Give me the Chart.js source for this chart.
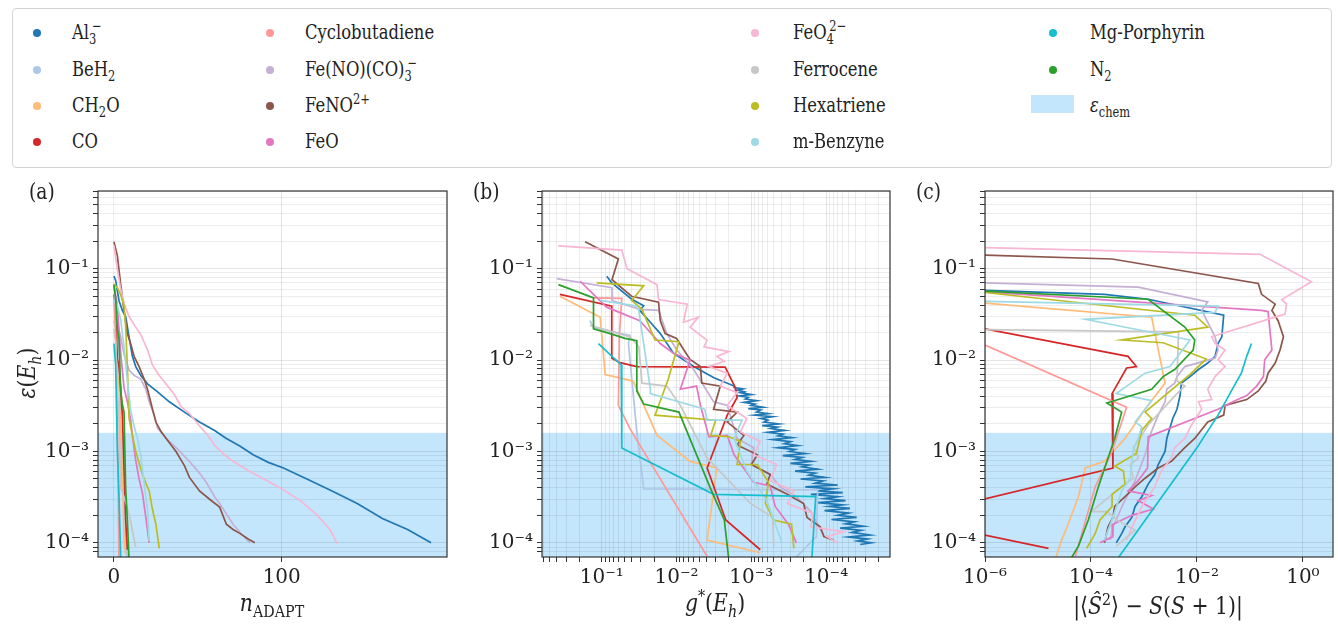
<!DOCTYPE html>
<html>
<head>
<meta charset="utf-8">
<script src="https://cdn.jsdelivr.net/npm/chart.js@4"></script>
<style>
  body { margin: 0; width: 1338px; height: 625px; overflow: hidden; background: #fff;
         font-family: "DejaVu Serif", "Liberation Serif", serif; color: #222; position: relative; }
  canvas.panel { position: absolute; top: 175px; }
  #legend { position: absolute; left: 12px; top: 8px; width: 1320px; height: 160px;
            border: 1px solid #d3d3d3; border-radius: 4px; box-sizing: border-box; }
  .dot { position: absolute; width: 8px; height: 8px; border-radius: 50%; }
  .patch { position: absolute; width: 43px; height: 18px; background: rgba(135,206,250,0.5); }
  .lab { position: absolute; font-size: 21px; line-height: 24px; white-space: nowrap;
         transform: scaleX(0.78); transform-origin: left center; }
  sub, sup { font-size: 0.7em; line-height: 0; }
  sup.stk { margin-left: -0.4em; }
  .title { position: absolute; font-size: 24px; white-space: nowrap; transform: translate(-50%, -50%) scaleX(0.85); }
  .plab { position: absolute; font-size: 22px; top: 179px; transform: scaleX(0.85); transform-origin: left top; }
</style>
</head>
<body>
<div id="legend"></div>
<canvas id="chartA" class="panel" width="451" height="450" style="left:0px"></canvas>
<canvas id="chartB" class="panel" width="451" height="450" style="left:444px"></canvas>
<canvas id="chartC" class="panel" width="451" height="450" style="left:887px"></canvas>

<div class="plab" style="left:29px">(a)</div>
<div class="plab" style="left:473px">(b)</div>
<div class="plab" style="left:916px">(c)</div>
<div class="title" style="left:27px; top:373px; transform: translate(-50%,-50%) rotate(-90deg) scaleX(0.85);"><i>ε</i>(<i>E</i><sub><i>h</i></sub>)</div>
<div class="title" style="left:272px; top:603px;"><i>n</i><sub>ADAPT</sub></div>
<div class="title" style="left:715px; top:603px;"><i>g</i><sup>*</sup>(<i>E</i><sub><i>h</i></sub>)</div>
<div class="title" style="left:1158px; top:606px;">|⟨<i>Ŝ</i><sup>2</sup>⟩ − <i>S</i>(<i>S</i> + 1)|</div>

<script>
// molecules, in legend / drawing order
const molecules = ['Al3-', 'BeH2', 'CH2O', 'CO', 'Cyclobutadiene', 'Fe(NO)(CO)3-', 'FeNO2+', 'FeO',
                   'FeO4 2-', 'Ferrocene', 'Hexatriene', 'm-Benzyne', 'Mg-Porphyrin', 'N2'];
const legendLabels = ['Al<sub>3</sub><sup class="stk">−</sup>', 'BeH<sub>2</sub>', 'CH<sub>2</sub>O', 'CO',
  'Cyclobutadiene', 'Fe(NO)(CO)<sub>3</sub><sup class="stk">−</sup>', 'FeNO<sup>2+</sup>', 'FeO',
  'FeO<sub>4</sub><sup class="stk">2−</sup>', 'Ferrocene', 'Hexatriene', 'm-Benzyne', 'Mg-Porphyrin', 'N<sub>2</sub>'];
const colors = ['#1f77b4', '#aec7e8', '#ffbb78', '#d62728', '#ff9896', '#c5b0d5', '#8c564b', '#e377c2',
                '#f7b6d2', '#c7c7c7', '#bcbd22', '#9edae5', '#17becf', '#2ca02c'];
const epsChem = 1.6e-3;

// (a) energy error vs ADAPT iteration  [n, eps]
const a_Al3 = [[0,0.083],[1,0.075],[3,0.045],[5,0.035],[7,0.03],[9,0.018],[11,0.011],[13,0.0085],[16,0.0068],[20,0.0055],[26,0.0045],[33,0.0035],[42,0.0027],[51,0.0021],[60,0.0017],[67,0.00139],[75,0.00115],[83,9.2e-4],[92,7.6e-4],[101,6.6e-4],[115,5.0e-4],[130,3.7e-4],[145,2.7e-4],[160,1.85e-4],[175,1.4e-4],[189,1e-4]];
const a_BeH2 = [[0,0.027],[1,0.0227],[2,0.0187],[3,0.0152],[4,1.64e-3],[5,3.9e-4],[6,3.8e-4],[7,1.17e-4],[8,6.6e-5]];
const a_CH2O = [[0,0.05],[1,0.0295],[2,0.007],[3,0.0059],[4,0.0015],[5,7.8e-4],[6,1.07e-4],[7,7.5e-5]];
const a_CO = [[0,0.0525],[1,0.039],[2,0.0105],[3,0.0085],[4,0.005],[5,0.0025],[6,6.6e-4],[7,1.78e-4],[8,8.4e-5]];
const a_Cyclobutadiene = [[0,0.048],[1,0.0195],[2,0.0032],[3,6.5e-5]];
const a_FeNOCO3 = [[0,0.068],[1,0.035],[2,0.025],[4,0.018],[6,0.0115],[9,0.0078],[12,0.0068],[16,0.0062],[19,0.0048],[21,0.0035],[24,0.0025],[26,0.0018],[31,0.0014],[37,0.0011],[45,7.8e-4],[51,5.8e-4],[55,4.6e-4],[60,3.2e-4],[63,2.7e-4],[71,1.6e-4],[76,1.25e-4],[81,1e-4]];
const a_FeNO = [[0,0.197],[2,0.14],[4,0.068],[6,0.035],[8,0.0195],[10,0.015],[12,0.011],[15,0.0085],[18,0.0062],[20,0.0048],[23,0.0029],[25,0.0021],[28,0.00166],[31,0.0014],[37,0.001],[42,7e-4],[45,5.2e-4],[51,3.7e-4],[57,3.0e-4],[63,2.46e-4],[67,1.6e-4],[71,1.4e-4],[75,1.27e-4],[80,1.1e-4],[84,1e-4]];
const a_FeO = [[0,0.065],[2,0.04],[4,0.012],[6,0.005],[8,0.0035],[10,0.0022],[11,0.0015],[13,8e-4],[15,5e-4],[17,3.5e-4],[19,1.9e-4],[21,1.0e-4]];
const a_FeO4 = [[0,0.18],[2,0.1],[4,0.06],[6,0.042],[9,0.03],[13,0.023],[16,0.019],[20,0.013],[23,0.0088],[27,0.0068],[32,0.0052],[36,0.0042],[40,0.0031],[45,0.0026],[51,0.0019],[56,0.0015],[60,0.00117],[65,0.00095],[71,7.8e-4],[80,6.2e-4],[91,4.8e-4],[101,3.8e-4],[111,2.9e-4],[120,2.1e-4],[126,1.6e-4],[129,1.38e-4],[133,9.8e-5]];
const a_Ferrocene = [[0,0.022],[1,0.016],[2,0.0055],[3,0.0022],[4,4e-4],[6,3.2e-4],[8,2.4e-4],[10,1.7e-4],[12,1.1e-4],[13,9e-5]];
const a_Hexatriene = [[0,0.068],[2,0.062],[4,0.052],[6,0.04],[7,0.023],[8,0.0085],[9,0.0023],[11,0.0015],[13,0.001],[15,7.5e-4],[17,5.6e-4],[19,4.5e-4],[21,3.7e-4],[23,2.3e-4],[25,1.6e-4],[27,8.7e-5]];
const a_mBenzyne = [[0,0.045],[2,0.04],[4,0.028],[6,0.014],[8,0.006],[10,0.0028],[12,0.0019],[14,0.0014],[16,9e-4],[18,4.5e-4],[20,2.3e-4],[21,1.05e-4]];
const a_MgPorphyrin = [[0,0.0152],[1,0.0089],[2,1.09e-3],[3,3.3e-4],[4,6.9e-5]];
const a_N2 = [[0,0.067],[1,0.048],[2,0.022],[3,0.0173],[4,0.0046],[5,0.0033],[6,0.0027],[7,3.9e-4],[8,1.78e-4],[9,6.5e-5]];

// (b) energy error vs largest gradient g*  [g, eps]
const b_Al3 = [[0.0857,0.083],[0.0735,0.07],[0.0398,0.0464],[0.0275,0.0394],[0.031,0.035],[0.0224,0.026],[0.0165,0.0195],[0.011,0.0119],[5.9e-3,8.5e-3],[3.16e-3,6.4e-3],[1.7e-3,5.2e-3],
  [1.7e-3,5.0e-3],[1.3e-3,4.85e-3],[1.55e-3,4.7e-3],[1.25e-3,4.5e-3],[1.4e-3,4.4e-3],[1.0e-3,4.2e-3],[1.45e-3,4.05e-3],[1.1e-3,3.9e-3],[1.2e-3,3.75e-3],[8.5e-4,3.6e-3],[1.25e-3,3.45e-3],[9e-4,3.3e-3],[1.0e-3,3.2e-3],[7e-4,3.05e-3],[1.1e-3,2.95e-3],[7.5e-4,2.85e-3],[8.5e-4,2.7e-3],[6e-4,2.6e-3],[9e-4,2.5e-3],[5.2e-4,2.4e-3],[7.5e-4,2.3e-3],[6e-4,2.2e-3],[6.8e-4,2.1e-3],[4.3e-4,2.0e-3],[7.2e-4,1.92e-3],[4.5e-4,1.85e-3],[5.5e-4,1.78e-3],[3.6e-4,1.7e-3],[6e-4,1.62e-3],[3.8e-4,1.55e-3],[4.4e-4,1.48e-3],[2.9e-4,1.42e-3],[5.2e-4,1.35e-3],[3.0e-4,1.28e-3],[3.6e-4,1.22e-3],[2.4e-4,1.16e-3],[4.4e-4,1.1e-3],[2.6e-4,1.05e-3],[3.1e-4,1.0e-3],[1.9e-4,9.5e-4],[3.8e-4,9.0e-4],[2.1e-4,8.6e-4],[2.6e-4,8.2e-4],[1.6e-4,7.8e-4],[3.0e-4,7.4e-4],[1.7e-4,7.1e-4],[2.1e-4,6.8e-4],[1.3e-4,6.4e-4],[2.6e-4,6.1e-4],[1.4e-4,5.8e-4],[1.7e-4,5.5e-4],[1.05e-4,5.2e-4],[2.2e-4,5.0e-4],[1.1e-4,4.75e-4],[1.4e-4,4.5e-4],[7e-5,4.3e-4],[1.9e-4,4.1e-4],[8e-5,3.9e-4],[1.3e-4,3.7e-4],[6e-5,3.55e-4],[1.6e-4,3.4e-4],[7e-5,3.2e-4],[1.05e-4,3.05e-4],[5.5e-5,2.9e-4],[1.3e-4,2.75e-4],[6e-5,2.6e-4],[9e-5,2.5e-4],[4.8e-5,2.38e-4],[1.05e-4,2.25e-4],[5e-5,2.12e-4],[7e-5,2.0e-4],[3.9e-5,1.9e-4],[8.5e-5,1.8e-4],[4.2e-5,1.7e-4],[5.5e-5,1.62e-4],[3.2e-5,1.52e-4],[6.5e-5,1.45e-4],[3.4e-5,1.37e-4],[4.5e-5,1.3e-4],[2.6e-5,1.22e-4],[5e-5,1.16e-4],[2.8e-5,1.1e-4],[3.8e-5,1.05e-4],[2.5e-5,1.0e-4],[3.5e-5,9.6e-5]];
const b_BeH2 = [[0.144,0.027],[0.129,0.0227],[0.042,0.0187],[0.044,0.0152],[0.034,1.64e-3],[0.0275,3.9e-4],[1.3e-4,3.8e-4],[1.35e-4,1.17e-4],[2.7e-4,6.6e-5]];
const b_CH2O = [[0.363,0.05],[0.105,0.0295],[0.09,6.95e-3],[0.038,5.9e-3],[0.0183,1.51e-3],[6.6e-3,7.8e-4],[2.9e-3,6.6e-4],[3.9e-3,1.07e-4],[7.6e-4,7.8e-5]];
const b_CO = [[0.363,0.0525],[0.0735,0.039],[0.0735,0.0105],[0.057,0.0094],[0.034,0.0085],[2.24e-3,0.0084],[1.64e-3,5.0e-3],[1.55e-3,3.9e-3],[2.1e-3,2.5e-3],[3.9e-3,6.6e-4],[2.2e-3,1.78e-4],[7.6e-4,8.4e-5]];
const b_Cyclobutadiene = [[0.129,0.048],[0.054,0.0475],[0.058,0.0195],[0.06,3.2e-3],[0.042,1.78e-3],[3.9e-3,7.1e-5]];
const b_FeNOCO3 = [[0.4,0.078],[0.073,0.062],[0.073,0.045],[0.031,0.036],[0.0174,0.035],[0.0135,0.0195],[0.01,0.013],[5.9e-3,7.9e-3],[3.2e-3,3.5e-3],[2.1e-3,3.2e-3],[1.55e-3,1.39e-3],[9.3e-4,1.1e-3],[1.0e-3,7.2e-4],[5.6e-4,5.6e-4],[4.1e-4,4.1e-4],[2.5e-4,3.2e-4],[1.6e-4,2.2e-4],[1.3e-4,1.6e-4],[1.07e-4,1.17e-4]];
const b_FeNO = [[0.167,0.197],[0.06,0.128],[0.073,0.076],[0.04,0.05],[0.0174,0.043],[0.0165,0.027],[0.0142,0.0195],[0.01,0.0173],[8.5e-3,0.014],[6.6e-3,0.0102],[4.8e-3,8.5e-3],[4.6e-3,5.6e-3],[2.6e-3,5.2e-3],[3.2e-3,2.9e-3],[1.55e-3,2.7e-3],[2.1e-3,2.1e-3],[1.26e-3,1.5e-3],[1.55e-3,1.18e-3],[8.3e-4,9.2e-4],[1.0e-3,7.2e-4],[5.6e-4,5.6e-4],[6.2e-4,4.4e-4],[3.3e-4,3.4e-4],[2.0e-4,2.7e-4],[1.8e-4,1.9e-4],[1.2e-4,1.5e-4],[1.07e-4,1.17e-4],[7.9e-5,1.07e-4]];
const b_FeO = [[0.195,0.073],[0.086,0.038],[0.031,0.027],[0.0165,0.0152],[0.011,0.0119],[6.6e-3,0.01],[8.9e-3,4.8e-3],[5.4e-3,5.2e-3],[4.8e-3,3.2e-3],[3.7e-3,1.45e-3],[2.1e-3,1.5e-3],[1.7e-3,9.2e-4],[9.3e-4,4.6e-4],[5.6e-4,4.2e-4],[4.8e-4,2.5e-4],[3.2e-4,1.6e-4],[2.5e-4,1e-4]];
const b_FeO4 = [[0.38,0.178],[0.054,0.16],[0.046,0.1],[0.0183,0.067],[0.0174,0.046],[7.2e-3,0.041],[8.1e-3,0.026],[5.1e-3,0.0295],[6.6e-3,0.023],[3.9e-3,0.0165],[4.3e-3,0.014],[2.0e-3,0.0124],[2.9e-3,0.011],[2.3e-3,9.7e-3],[3.7e-3,8.5e-3],[2.1e-3,7.2e-3],[2.6e-3,5.2e-3],[1.55e-3,4.4e-3],[2.1e-3,3.2e-3],[1.15e-3,2.3e-3],[1.4e-3,1.64e-3],[7.6e-4,1.29e-3],[9.3e-4,9.2e-4],[4.6e-4,7.2e-4],[5.6e-4,4.8e-4],[2.7e-4,3.7e-4],[3.3e-4,2.7e-4],[1.5e-4,2.1e-4],[1.6e-4,1.5e-4],[5.8e-5,1.32e-4],[9.8e-5,1.17e-4],[7.1e-5,1e-4]];
const b_Ferrocene = [[0.144,0.024],[0.042,0.018],[0.032,0.014],[0.029,5.6e-3],[0.0135,5.2e-3],[8.9e-3,3.2e-3],[3.9e-3,8.5e-4],[1.03e-3,2.7e-4],[5.2e-4,1.9e-4],[5.0e-4,9.2e-5]];
const b_Hexatriene = [[0.117,0.07],[0.0275,0.065],[0.0398,0.045],[0.029,0.036],[0.0194,0.0166],[9.3e-3,0.0159],[0.0129,6.2e-3],[0.0194,2.5e-3],[3.0e-3,2.2e-3],[3.5e-3,1.5e-3],[2.0e-3,1.45e-3],[1.4e-3,1.29e-3],[1.55e-3,7.2e-4],[8.3e-4,7.2e-4],[5.9e-4,4.6e-4],[6.5e-4,2.7e-4],[5.0e-4,1.78e-4],[2.9e-4,1.6e-4],[2.7e-4,8.7e-5]];
const b_mBenzyne = [[0.105,0.045],[0.034,0.039],[0.032,0.035],[0.0224,4.8e-3],[0.0224,4.3e-3],[4.2e-3,2.9e-3],[3.9e-3,2.2e-3],[1.33e-3,2.2e-3],[1.7e-3,1.39e-3],[1.15e-3,6.1e-4],[6.2e-4,2.9e-4],[3.9e-4,1e-4]];
const b_MgPorphyrin = [[0.111,0.0152],[0.055,8.9e-3],[0.054,1.09e-3],[3.2e-3,3.4e-4],[1.38e-4,3.2e-4],[1.55e-4,6.9e-5]];
const b_N2 = [[0.38,0.067],[0.129,0.048],[0.129,0.022],[0.077,0.0195],[0.049,0.0173],[0.034,0.0163],[0.034,4.6e-3],[0.0275,3.3e-3],[9.3e-3,2.7e-3],[3.5e-3,3.9e-4],[2.3e-3,1.78e-4],[2.0e-3,6.5e-5]];

// (c) energy error vs spin contamination  [|<S^2>-S(S+1)|, eps]
const c_Al3 = [[1e-6,0.058],[1.8e-4,0.0525],[1.2e-3,0.0464],[0.032,0.031],[0.0295,0.018],[0.025,0.0152],[0.022,0.011],[0.016,9.3e-3],[0.0107,7.9e-3],[7.4e-3,6.6e-3],[5.1e-3,5.6e-3],[4.8e-3,4.1e-3],[4.2e-3,2.9e-3],[3.5e-3,2.3e-3],[2.7e-3,1.39e-3],[2.5e-3,1e-3],[1.86e-3,7.2e-4],[1.6e-3,5.6e-4],[1.2e-3,4.4e-4],[9.1e-4,3.2e-4],[6.8e-4,2.5e-4],[5.9e-4,1.9e-4],[4.4e-4,1.5e-4],[3.8e-4,1.26e-4],[3.0e-4,1e-4]];
const c_BeH2 = [];
const c_CH2O = [[1e-6,0.042],[1.4e-3,0.0295],[2.5e-3,5.6e-3],[1.05e-3,2.9e-3],[4.4e-4,1.39e-3],[1.8e-4,7.8e-4],[7.8e-5,6.6e-4],[5.8e-5,3.2e-4],[3.7e-5,1.6e-4],[2.8e-5,1.07e-4],[2.2e-5,7.1e-5]];
const c_CO = [[1e-6,0.022],[5.0e-4,0.011],[7.2e-4,8.5e-3],[4.7e-4,8.2e-3],[2.5e-4,4.3e-3],[2.6e-4,6.6e-4],[1e-7,2.2e-4],[1e-7,1.6e-4],[1.58e-5,8.7e-5]];
const c_Cyclobutadiene = [[1e-6,0.0146],[4.7e-4,3.05e-3],[2.5e-4,1e-3],[1.2e-4,4.1e-4],[5e-5,6.9e-5]];
const c_FeNOCO3 = [[1e-6,0.07],[7.8e-4,0.063],[0.016,0.0435],[0.0123,0.035],[0.022,0.018],[0.025,0.0129],[0.022,0.0105],[5.9e-3,8.5e-3],[4.2e-3,6.6e-3],[3.8e-3,5.6e-3],[2.7e-3,4.8e-3],[2.5e-3,3.5e-3],[1.86e-3,2.5e-3],[1.38e-3,1.64e-3],[1.05e-3,9.2e-4],[6.8e-4,4.8e-4],[4.1e-4,2.7e-4],[2.6e-4,1.5e-4],[2.3e-4,1.07e-4]];
const c_FeNO = [[1e-6,0.141],[2.5e-4,0.128],[0.144,0.069],[0.166,0.0525],[0.3,0.041],[0.26,0.035],[0.34,0.027],[0.43,0.018],[0.37,0.0129],[0.3,9.3e-3],[0.22,7.2e-3],[0.2,5.9e-3],[0.144,4.6e-3],[0.087,3.7e-3],[0.034,3.2e-3],[0.032,2.5e-3],[0.016,2.1e-3],[9.1e-3,1.39e-3],[5.9e-3,1.1e-3],[3.3e-3,7.8e-4],[1.86e-3,6.6e-4],[1.05e-3,5.1e-4],[6.8e-4,4.1e-4],[4.4e-4,3.2e-4],[2.8e-4,2.5e-4],[2.6e-4,1.9e-4],[2.1e-4,1.5e-4],[1.8e-4,1e-4]];
const c_FeO = [[1e-6,0.056],[0.166,0.035],[0.22,0.034],[0.26,0.0129],[0.19,0.0101],[0.18,6.6e-3],[0.134,5.2e-3],[0.087,4.1e-3],[0.052,3.6e-3],[0.025,2.9e-3],[1.4e-3,1.5e-3],[1.2e-3,1.45e-3],[1.17e-3,6.6e-4],[7.8e-4,4.8e-4],[5.0e-4,3.7e-4],[1.4e-3,3.3e-4],[7.8e-4,2.9e-4],[1.5e-3,2.35e-4],[5.9e-4,2.0e-4],[2.5e-4,1.58e-4],[2.6e-4,1.17e-4],[1.48e-4,1e-4]];
const c_FeO4 = [[1e-6,0.17],[0.155,0.144],[1.45,0.072],[0.4,0.046],[0.49,0.041],[0.46,0.032],[0.019,0.018],[0.022,0.0152],[0.034,0.0129],[0.025,0.0101],[0.034,8.5e-3],[0.022,6.6e-3],[0.016,4.8e-3],[0.019,3.7e-3],[0.0107,3.5e-3],[0.0123,2.9e-3],[7.9e-3,1.95e-3],[5.9e-3,1.39e-3],[3.8e-3,1.1e-3],[3.3e-3,8.5e-4],[2.1e-3,6.1e-4],[1.6e-3,4.1e-4],[9.8e-4,2.7e-4],[6.3e-4,1.6e-4],[4.7e-4,1.07e-4]];
const c_Ferrocene = [[1e-6,0.0216],[4.5e-3,0.0204],[4.2e-3,5.9e-3],[5.9e-3,5.2e-3],[4.2e-3,4.3e-3],[2.0e-3,2.7e-3],[1.2e-3,1.95e-3],[8.3e-4,1.39e-3],[6.3e-4,1.12e-3],[7.9e-4,8.5e-4],[5.5e-4,7.2e-4],[6.3e-4,5.1e-4],[3.0e-4,3.7e-4],[1.02e-4,2.2e-4],[2.0e-4,2.2e-4],[3.3e-4,1.74e-4],[6.8e-4,1.38e-4],[3.0e-4,9.2e-5]];
const c_Hexatriene = [[1e-6,0.055],[9.1e-3,0.031],[0.016,0.023],[3.8e-4,0.0166],[2.3e-3,0.0155],[0.015,0.0103],[7.9e-3,7.2e-3],[1.05e-3,2.7e-3],[1.4e-3,2.3e-3],[9.1e-4,1.7e-3],[7.2e-4,9.5e-4],[2.8e-4,6.9e-4],[4.1e-4,6.1e-4],[4.4e-4,4.4e-4],[2.5e-4,3.4e-4],[2.5e-4,2.5e-4],[1.48e-4,1.78e-4],[1.2e-4,1.26e-4],[8.3e-5,8.7e-5]];
const c_mBenzyne = [[1e-6,0.044],[0.025,0.039],[0.022,0.0333],[7.8e-5,0.028],[7.4e-3,0.0166],[3.1e-3,8.5e-3],[1.05e-3,7.2e-3],[3.0e-4,4.3e-3],[1.4e-3,3.6e-3],[6.8e-4,2.1e-3],[9.1e-4,1.86e-3],[7.8e-4,1.39e-3],[6.3e-4,1.05e-3],[5.5e-4,5.1e-4],[3.8e-4,3.7e-4],[2.6e-4,1.9e-4],[1.8e-4,1.07e-4]];
const c_MgPorphyrin = [[0.107,0.0152],[0.087,0.011],[0.069,7.2e-3],[0.052,5.4e-3],[0.025,2.5e-3],[0.01,1.1e-3],[3.3e-4,6.9e-5]];
const c_N2 = [[1e-6,0.057],[1.2e-3,0.0464],[5.9e-3,0.023],[9.1e-3,0.0166],[8.5e-3,0.0129],[3.8e-3,7.9e-3],[2.3e-3,6.6e-3],[1.4e-3,4.8e-3],[2.0e-4,3.4e-3],[3.8e-4,2.7e-3],[2.8e-4,1.39e-3],[2.1e-4,8.5e-4],[1.38e-4,4.1e-4],[8.9e-5,1.78e-4],[5.8e-5,9.2e-5],[4.3e-5,6.9e-5]];

const panelA = [a_Al3, a_BeH2, a_CH2O, a_CO, a_Cyclobutadiene, a_FeNOCO3, a_FeNO, a_FeO, a_FeO4, a_Ferrocene, a_Hexatriene, a_mBenzyne, a_MgPorphyrin, a_N2];
const panelB = [b_Al3, b_BeH2, b_CH2O, b_CO, b_Cyclobutadiene, b_FeNOCO3, b_FeNO, b_FeO, b_FeO4, b_Ferrocene, b_Hexatriene, b_mBenzyne, b_MgPorphyrin, b_N2];
const panelC = [c_Al3, c_BeH2, c_CH2O, c_CO, c_Cyclobutadiene, c_FeNOCO3, c_FeNO, c_FeO, c_FeO4, c_Ferrocene, c_Hexatriene, c_mBenzyne, c_MgPorphyrin, c_N2];

// legend (4 columns, filled top to bottom)
const dotX = [37, 270, 755, 1053], textX = [72, 305, 793, 1090], rowY = [33, 70, 106, 142];
function addHtml(html) { document.body.insertAdjacentHTML('beforeend', html); }
molecules.forEach((m, i) => {
  const col = Math.floor(i / 4), row = i % 4;
  addHtml(`<div class="dot" style="left:${dotX[col] - 4}px;top:${rowY[row] - 4}px;background:${colors[i]}"></div>`);
  addHtml(`<div class="lab" style="left:${textX[col]}px;top:${rowY[row] - 13}px">${legendLabels[i]}</div>`);
});
addHtml(`<div class="patch" style="left:1031px;top:${rowY[2] - 11}px"></div>`);
addHtml(`<div class="lab" style="left:${textX[3]}px;top:${rowY[2] - 13}px"><i>ε</i><sub>chem</sub></div>`);

// helpers
const SUP = { '-': '⁻', '0': '⁰', '1': '¹', '2': '²', '3': '³', '4': '⁴', '5': '⁵', '6': '⁶', '7': '⁷', '8': '⁸', '9': '⁹' };
function isDecade(v) { const e = Math.round(Math.log10(v)); return Math.abs(v / Math.pow(10, e) - 1) < 1e-6; }
function powLabel(v) { const e = Math.round(Math.log10(v)); return '10' + String(e).split('').map(c => SUP[c]).join(''); }
function logTicks(lo, hi, minor, step) {
  const t = [];
  for (let e = Math.floor(Math.log10(lo)); e <= Math.ceil(Math.log10(hi)); e++) {
    const p = Math.pow(10, e);
    if (e % step === 0) t.push(p);
    if (minor) for (let m = 2; m <= 9; m++) t.push(m * p);
  }
  return t.filter(v => v >= lo * 0.999 && v <= hi * 1.001).map(v => ({ value: v }));
}

const gridColor = (ctx) => (ctx.tick && isDecade(ctx.tick.value)) ? 'rgba(0,0,0,0.10)' : 'rgba(0,0,0,0.07)';

const bandAndFrame = {
  id: 'bandAndFrame',
  beforeDraw(chart) {
    const { ctx, chartArea: a, scales: { y } } = chart;
    const top = y.getPixelForValue(epsChem);
    ctx.save();
    ctx.fillStyle = 'rgba(135,206,250,0.5)';
    ctx.fillRect(a.left, top, a.right - a.left, a.bottom - top);
    ctx.restore();
  },
  afterDatasetsDraw(chart) {
    const { ctx, chartArea: a } = chart;
    ctx.save();
    ctx.strokeStyle = '#333';
    ctx.lineWidth = 1.2;
    ctx.strokeRect(a.left, a.top, a.right - a.left, a.bottom - a.top);
    ctx.restore();
  }
};

Chart.defaults.font.family = '"DejaVu Serif", "Liberation Serif", serif';
Chart.defaults.font.size = 20;
Chart.defaults.color = '#222';

const yMin = 7.1e-5, yMax = 0.71;

function makeChart(id, series, xScale, padRight) {
  new Chart(document.getElementById(id), {
    type: 'line',
    data: {
      datasets: series.map((d, i) => ({
        label: molecules[i],
        data: d,
        borderColor: colors[i],
        borderWidth: 1.7,
        pointRadius: 0,
        fill: false,
        tension: 0,
        order: molecules.length - i
      }))
    },
    options: {
      responsive: false,
      animation: false,
      events: [],
      layout: { padding: { top: 10, right: padRight, left: 0, bottom: 0 } },
      plugins: { legend: { display: false }, tooltip: { enabled: false } },
      scales: {
        x: Object.assign({
          position: 'bottom',
          afterFit: (s) => { s.height = 68; },
          border: { display: false },
          grid: { color: gridColor, tickColor: '#333', tickLength: 5, drawTicks: true },
          ticks: { autoSkip: false, maxRotation: 0, padding: 4 }
        }, xScale),
        y: {
          type: 'logarithmic',
          min: yMin,
          max: yMax,
          afterFit: (s) => { s.width = 98; },
          afterBuildTicks: (s) => { s.ticks = logTicks(yMin, yMax, true, 1); },
          border: { display: false },
          grid: { color: gridColor, tickColor: '#333', tickLength: 5 },
          ticks: { autoSkip: false, padding: 4, callback: (v) => isDecade(v) ? powLabel(v) : '' }
        }
      }
    },
    plugins: [bandAndFrame]
  });
}

makeChart('chartA', panelA, {
  type: 'linear', min: -9.5, max: 198.5,
  afterBuildTicks: (s) => { s.ticks = [{ value: 0 }, { value: 100 }]; },
  ticks: { autoSkip: false, maxRotation: 0, padding: 4, callback: (v) => String(v) }
}, 4);

makeChart('chartB', panelB, {
  type: 'logarithmic', min: 1.4e-5, max: 0.63, reverse: true,
  afterBuildTicks: (s) => { s.ticks = logTicks(1.4e-5, 0.63, true, 1); },
  ticks: { autoSkip: false, maxRotation: 0, padding: 4, callback: (v) => isDecade(v) ? powLabel(v) : '' }
}, 5);

makeChart('chartC', panelC, {
  type: 'logarithmic', min: 1e-6, max: 3.7,
  afterBuildTicks: (s) => { s.ticks = logTicks(1e-6, 3.7, false, 2); },
  ticks: { autoSkip: false, maxRotation: 0, padding: 4, callback: (v) => powLabel(v) }
}, 5);
</script>
</body>
</html>
